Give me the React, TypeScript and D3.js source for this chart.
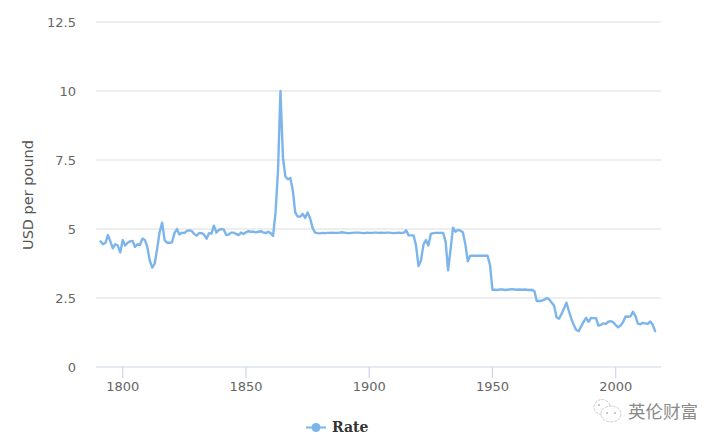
import React from "react";
import * as d3 from "d3";

const startYear = 1791;
const rates = [
  4.55,4.45,4.5,4.78,4.55,4.3,4.45,4.4,4.15,4.6,
  4.4,4.5,4.55,4.57,4.35,4.45,4.42,4.65,4.6,4.35,
  3.85,3.6,3.75,4.3,4.9,5.23,4.6,4.5,4.5,4.52,
  4.85,5.0,4.8,4.87,4.85,4.93,4.95,4.93,4.82,4.76,
  4.85,4.85,4.8,4.65,4.85,4.83,5.12,4.87,4.97,5.0,
  4.98,4.78,4.8,4.87,4.87,4.82,4.78,4.87,4.82,4.88,
  4.92,4.9,4.9,4.88,4.9,4.92,4.88,4.85,4.9,4.85,
  4.75,5.6,7.1,10,7.6,6.9,6.8,6.85,6.4,5.6,
  5.45,5.45,5.55,5.4,5.6,5.4,5.05,4.87,4.85,4.84,
  4.86,4.85,4.86,4.86,4.87,4.86,4.86,4.87,4.88,4.87,
  4.85,4.85,4.86,4.87,4.87,4.87,4.86,4.85,4.87,4.86,
  4.86,4.87,4.87,4.86,4.87,4.86,4.87,4.87,4.86,4.85,
  4.86,4.87,4.86,4.86,4.95,4.77,4.77,4.77,4.4,3.66,
  3.85,4.43,4.6,4.4,4.82,4.85,4.86,4.86,4.86,4.86,
  4.54,3.5,4.25,5.05,4.9,4.97,4.94,4.88,4.45,3.83,
  4.03,4.03,4.03,4.03,4.03,4.03,4.03,4.03,3.7,2.8,
  2.8,2.79,2.81,2.81,2.79,2.8,2.81,2.82,2.81,2.8,
  2.81,2.8,2.81,2.8,2.79,2.8,2.75,2.39,2.39,2.4,
  2.44,2.5,2.45,2.34,2.22,1.8,1.75,1.92,2.12,2.33,
  2.03,1.75,1.52,1.34,1.3,1.47,1.64,1.78,1.64,1.78,
  1.77,1.77,1.5,1.53,1.58,1.56,1.64,1.66,1.62,1.52,
  1.44,1.5,1.63,1.83,1.82,1.84,2.0,1.85,1.57,1.55,
  1.6,1.58,1.56,1.65,1.53,1.3,
];
const xTicks = [1800, 1850, 1900, 1950, 2000];
const yTicks = [0, 2.5, 5, 7.5, 10, 12.5];
const seriesName = "Rate";
const yTitle = "USD per pound";
const watermark = "英伦财富";

const W = 723, H = 443;
const x = d3.scaleLinear().domain([1800, 2000]).range([122.7, 615.7]);
const y = d3.scaleLinear().domain([0, 12.5]).range([367, 22]);
const line = d3.line<number>().x((_, i) => x(startYear + i)).y(d => y(d)).curve(d3.curveLinear);
const FONT = "'DejaVu Sans', Verdana, sans-serif";
const BLUE = "#7cb5ec";

export default function App() {
  return (
    <svg width={W} height={H} viewBox={`0 0 ${W} ${H}`} style={{ position: "fixed", left: 0, top: 0, background: "#fff" }}>
      {yTicks.filter(t => t > 0).map(t => (
        <line key={t} x1={96} x2={661} y1={y(t)} y2={y(t)} stroke="#e8e8e8" strokeWidth={1.3} />
      ))}
      <line x1={96} x2={661} y1={y(0)} y2={y(0)} stroke="#ccd6eb" strokeWidth={1.2} />
      {xTicks.map(t => (
        <g key={t}>
          <line x1={x(t)} x2={x(t)} y1={367} y2={378} stroke="#ccd6eb" strokeWidth={1.2} />
          <text x={x(t)} y={391} textAnchor="middle" fontFamily={FONT} fontSize={13} fill="#666">{t}</text>
        </g>
      ))}
      {yTicks.map(t => (
        <text key={t} x={76} y={y(t) + 5} textAnchor="end" fontFamily={FONT} fontSize={13} fill="#666">{t}</text>
      ))}
      <text transform={`translate(33,195) rotate(-90)`} textAnchor="middle" fontFamily={FONT} fontSize={14.5} fill="#555">{yTitle}</text>
      <path d={line(rates) ?? ""} fill="none" stroke={BLUE} strokeWidth={2.4} strokeLinejoin="round" strokeLinecap="round" />
      <line x1={306} x2={326} y1={427.5} y2={427.5} stroke={BLUE} strokeWidth={2} />
      <circle cx={316} cy={427.5} r={4.5} fill={BLUE} />
      <text x={332} y={432} fontFamily="'DejaVu Serif', serif" fontWeight="bold" fontSize={14} fill="#333">{seriesName}</text>
      <g fill="#fff" stroke="#c0c0c0" strokeWidth={0.8} strokeDasharray="3 1">
        <ellipse cx={602} cy={407} rx={8} ry={7.5} />
        <ellipse cx={611} cy={414} rx={10} ry={8} />
      </g>
      <g fill="#b0b0b0">
        <circle cx={607} cy={413} r={0.9} />
        <circle cx={615} cy={413} r={0.9} />
        <circle cx={599} cy={405} r={0.9} />
      </g>
      <text x={628} y={418} fontFamily="'Noto Sans CJK SC', sans-serif" fontSize={17.5} fill="#8a8a8a">{watermark}</text>
    </svg>
  );
}
